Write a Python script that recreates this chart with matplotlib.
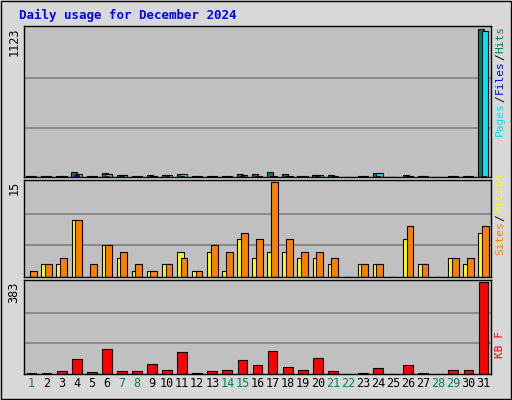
import matplotlib
matplotlib.use("Agg")
import matplotlib.pyplot as plt

days = list(range(1, 32))
hits = [8,8,8,40,8,30,15,8,15,15,25,8,8,8,25,20,35,25,8,15,15,0,8,30,0,15,8,0,8,8,1123]
files = [8,8,8,25,8,20,15,8,10,15,20,8,8,8,15,8,8,8,8,15,8,0,8,30,0,8,8,0,8,8,1110]
pages = [2,2,2,12,2,8,5,2,4,5,5,2,2,2,8,5,5,5,2,5,3,0,2,10,0,3,2,0,2,2,10]
sites = [0,2,2,9,0,5,3,1,1,2,4,1,4,1,6,3,4,4,3,3,2,0,2,2,0,6,2,0,3,2,7]
visits = [1,2,3,9,2,5,4,2,1,2,3,1,5,4,7,6,15,6,4,4,3,0,2,2,0,8,2,0,3,3,8]
kbytes = [3,3,14,61,10,103,14,14,43,18,91,4,14,18,57,39,95,31,18,66,14,0,4,24,0,39,4,0,18,18,383]
weekend = {1,7,8,14,15,21,22,28,29}

W, H = 512, 400
fig = plt.figure(figsize=(W/100, H/100), dpi=100, facecolor="#d8d8d8")
mono = "DejaVu Sans Mono"
x0, x1 = 24/W, 491/W
def ax_at(top, bot):
    return fig.add_axes([x0, 1-bot/H, x1-x0, (bot-top)/H])
panels = [(26, 177), (180, 277), (280, 374)]
axes = [ax_at(t, b) for t, b in panels]
for ax, mx in zip(axes, [1123, 15, 383]):
    ax.set_facecolor("#c0c0c0")
    ax.set_xlim(0.5, 31.5)
    ax.set_ylim(0, mx*1.02)
    for g in (mx/3, 2*mx/3):
        ax.axhline(g, color="#808080", lw=1.2, zorder=0)
    ax.set_xticks([]); ax.set_yticks([])
    for s in ax.spines.values():
        s.set_color("black"); s.set_linewidth(1)

ax = axes[0]
ax.bar([d-0.15 for d in days], hits, width=0.4, color="#00805c", edgecolor="black", lw=0.8)
ax.bar([d+0.1 for d in days], files, width=0.45, color="#00e0ff", edgecolor="black", lw=0.8)
ax.bar(days, pages, width=0.3, color="#0000ff", edgecolor="black", lw=0.5)
ax = axes[1]
ax.bar([d-0.12 for d in days], sites, width=0.45, color="#ffff00", edgecolor="black", lw=0.8)
ax.bar([d+0.12 for d in days], visits, width=0.45, color="#ff8000", edgecolor="black", lw=0.8)
ax = axes[2]
ax.bar(days, kbytes, width=0.65, color="#ff0000", edgecolor="black", lw=0.8)

for d in days:
    axes[2].text(d, -0.03, str(d), transform=axes[2].get_xaxis_transform(), ha="center", va="top",
                 fontsize=8.5, family=mono, color="#00805c" if d in weekend else "black")

for (t, b), lab in zip(panels, ["1123", "15", "383"]):
    fig.text(14/W, 1-t/H-0.003, lab, rotation=90, ha="center", va="top", fontsize=8.5, family=mono)

fig.canvas.draw()
renderer = fig.canvas.get_renderer()
def rlabel_bottom(bot, parts):
    y = 1-bot/H
    for txt, c in parts:
        t = fig.text(500/W, y, txt, rotation=90, ha="center", va="bottom", fontsize=8, family=mono, color=c)
        bb = t.get_window_extent(renderer)
        y += (bb.height + 0.5)/H
rlabel_bottom(136, [("Pages", "#00e0ff"), ("/", "black"), ("Files", "#0000ff"), ("/", "black"), ("Hits", "#00805c")])
rlabel_bottom(255, [("Sites", "#ff8000"), ("/", "black"), ("Visits", "#ffff00")])
rlabel_bottom(358, [("KB F", "#ff0000")])

fig.text(19/W, 1-15/H, "Daily usage for December 2024", ha="left", va="center", fontsize=9,
         family=mono, weight="bold", color="#0000ff")
fig.patches.append(plt.Rectangle((0.002, 0.002), 0.996, 0.996, transform=fig.transFigure,
                                 fill=False, edgecolor="black", lw=1))
fig.savefig("out.png", dpi=100, facecolor=fig.get_facecolor())
